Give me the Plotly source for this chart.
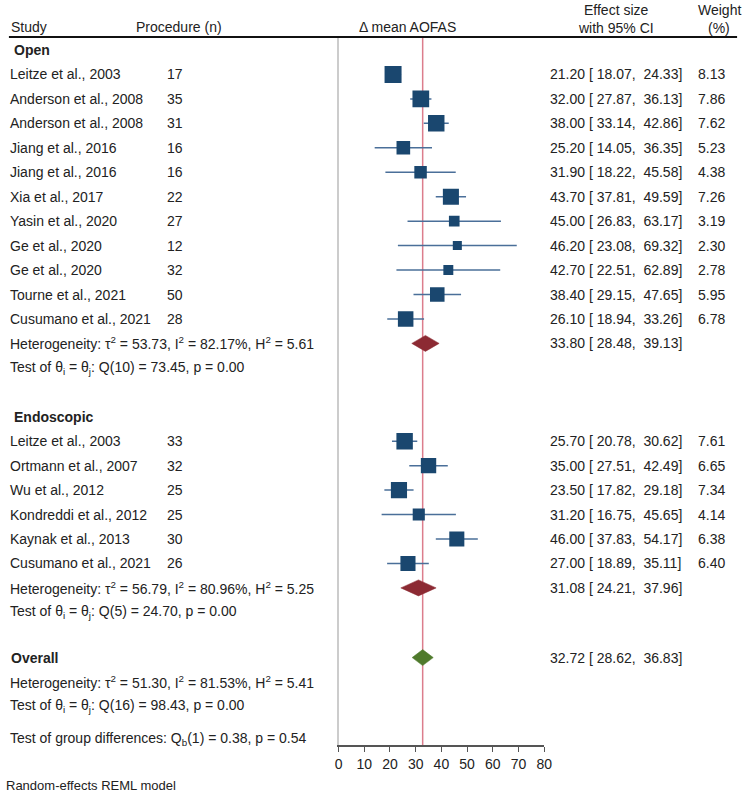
import plotly.graph_objects as go
import math

# ---------------- data ----------------
open_studies = ["Leitze et al., 2003", "Anderson et al., 2008", "Anderson et al., 2008",
                "Jiang et al., 2016", "Jiang et al., 2016", "Xia et al., 2017",
                "Yasin et al., 2020", "Ge et al., 2020", "Ge et al., 2020",
                "Tourne et al., 2021", "Cusumano et al., 2021"]
open_n = [17, 35, 31, 16, 16, 22, 27, 12, 32, 50, 28]
open_es = [21.20, 32.00, 38.00, 25.20, 31.90, 43.70, 45.00, 46.20, 42.70, 38.40, 26.10]
open_lo = [18.07, 27.87, 33.14, 14.05, 18.22, 37.81, 26.83, 23.08, 22.51, 29.15, 18.94]
open_hi = [24.33, 36.13, 42.86, 36.35, 45.58, 49.59, 63.17, 69.32, 62.89, 47.65, 33.26]
open_w = [8.13, 7.86, 7.62, 5.23, 4.38, 7.26, 3.19, 2.30, 2.78, 5.95, 6.78]

endo_studies = ["Leitze et al., 2003", "Ortmann et al., 2007", "Wu et al., 2012",
                "Kondreddi et al., 2012", "Kaynak et al., 2013", "Cusumano et al., 2021"]
endo_n = [33, 32, 25, 25, 30, 26]
endo_es = [25.70, 35.00, 23.50, 31.20, 46.00, 27.00]
endo_lo = [20.78, 27.51, 17.82, 16.75, 37.83, 18.89]
endo_hi = [30.62, 42.49, 29.18, 45.65, 54.17, 35.11]
endo_w = [7.61, 6.65, 7.34, 4.14, 6.38, 6.40]

pooled_labels = ["Open", "Endoscopic", "Overall"]
pooled_es = [33.80, 31.08, 32.72]
pooled_lo = [28.48, 24.21, 28.62]
pooled_hi = [39.13, 37.96, 36.83]

open_het = "Heterogeneity: τ<sup>2</sup> = 53.73, I<sup>2</sup> = 82.17%, H<sup>2</sup> = 5.61"
open_test = "Test of θ<sub>i</sub> = θ<sub>j</sub>: Q(10) = 73.45, p = 0.00"
endo_het = "Heterogeneity: τ<sup>2</sup> = 56.79, I<sup>2</sup> = 80.96%, H<sup>2</sup> = 5.25"
endo_test = "Test of θ<sub>i</sub> = θ<sub>j</sub>: Q(5) = 24.70, p = 0.00"
all_het = "Heterogeneity: τ<sup>2</sup> = 51.30, I<sup>2</sup> = 81.53%, H<sup>2</sup> = 5.41"
all_test = "Test of θ<sub>i</sub> = θ<sub>j</sub>: Q(16) = 98.43, p = 0.00"
group_test = "Test of group differences: Q<sub>b</sub>(1) = 0.38, p = 0.54"

x_ticks = [0, 10, 20, 30, 40, 50, 60, 70, 80]

# ---------------- layout helpers ----------------
W, H = 750, 796
TOP, BOT = 38, 745          # plot area pixels
ROW0, STEP = 50, 24.45      # pixel of first row and row spacing
y_top = (TOP - ROW0) / STEP
y_bot = (BOT - ROW0) / STEP

FONT = "Liberation Sans, Arial, sans-serif"
TXT = "#222222"
SQ = "#1a476f"
CI = "#4a6f99"
RED_LINE = "#dc7d8c"
NB = "\u00a0"

open_rows = [1 + i for i in range(len(open_studies))]
open_het_row = 12
open_test_row = 13
endo_head_row = 15
endo_rows = [16 + i for i in range(len(endo_studies))]
endo_het_row = 22
endo_test_row = 23
overall_row = 24.85
all_het_row = 25.85
all_test_row = 26.85
group_row = 28.2
pooled_rows = [open_het_row, endo_het_row, overall_row]
pooled_colors = ["#8c2a33", "#8c2a33", "#4f7a2c"]

fig = go.Figure()
annotations = []

def txt(x, y, s, anchor="left", yref="y", size=14, bold=False):
    if bold:
        s = "<b>" + s + "</b>"
    annotations.append(dict(x=x / W, y=y, xref="paper", yref=yref, text=s, showarrow=False,
                            xanchor=anchor, yanchor="middle", align=anchor,
                            borderpad=0, borderwidth=0,
                            font=dict(family=FONT, size=size, color=TXT)))

def paper_y(pix):
    return 1 - (pix - TOP) / (BOT - TOP)

# header
txt(7, paper_y(27), "Study", yref="paper")
txt(134, paper_y(27), "Procedure (n)", yref="paper")
txt(410, paper_y(27), "Δ mean AOFAS", anchor="center", yref="paper")
txt(622, paper_y(10), "Effect size", anchor="center", yref="paper")
txt(622, paper_y(28), "with 95% CI", anchor="center", yref="paper")
txt(727, paper_y(10), "Weight", anchor="center", yref="paper")
txt(727, paper_y(28), "(%)", anchor="center", yref="paper")

ES_X = 555

def fmt(es, lo, hi):
    return f"{es:5.2f} [ {lo:5.2f},  {hi:5.2f}]".replace(" ", NB)

def add_group(names, ns, es, lo, hi, w, rows):
    for nm, n, e, l, h, ww, r in zip(names, ns, es, lo, hi, w, rows):
        txt(6, r, nm)
        txt(166, r, str(n))
        txt(ES_X, r, fmt(e, l, h))
        txt(733, r, f"{ww:.2f}", anchor="right")
        fig.add_trace(go.Scatter(x=[l, h], y=[r, r], mode="lines",
                                 line=dict(color=CI, width=1.5), hoverinfo="skip"))
    fig.add_trace(go.Scatter(x=es, y=rows, mode="markers",
                             marker=dict(symbol="square", color=SQ, opacity=1,
                                         size=[5.96 * math.sqrt(v) for v in w],
                                         line=dict(width=0)),
                             hoverinfo="skip"))

txt(10, 0, "Open", bold=True)
add_group(open_studies, open_n, open_es, open_lo, open_hi, open_w, open_rows)
txt(6, open_het_row, open_het)
txt(6, open_test_row, open_test)

txt(10, endo_head_row, "Endoscopic", bold=True)
add_group(endo_studies, endo_n, endo_es, endo_lo, endo_hi, endo_w, endo_rows)
txt(6, endo_het_row, endo_het)
txt(6, endo_test_row, endo_test)

txt(7, overall_row, "Overall", bold=True)
txt(6, all_het_row, all_het)
txt(6, all_test_row, all_test)
txt(6, group_row, group_test)

# pooled diamonds
half = 8 / STEP
for lab, e, l, h, r, c in zip(pooled_labels, pooled_es, pooled_lo, pooled_hi, pooled_rows, pooled_colors):
    fig.add_trace(go.Scatter(x=[l, e, h, e, l], y=[r, r - half, r, r + half, r],
                             mode="lines", fill="toself", fillcolor=c,
                             line=dict(color=c, width=0.5), hoverinfo="skip"))
    txt(ES_X, r, fmt(e, l, h))

txt(2, paper_y(786), "Random-effects REML model", yref="paper", size=13)

# shapes: header rule and overall effect line
shapes = [
    dict(type="line", xref="paper", yref="paper", x0=5 / W, x1=745 / W,
         y0=paper_y(37), y1=paper_y(37), line=dict(color="#111111", width=2)),
    dict(type="line", xref="x", yref="paper", x0=pooled_es[2], x1=pooled_es[2],
         y0=0, y1=1, line=dict(color=RED_LINE, width=1.5), layer="below"),
]

fig.update_layout(
    width=W, height=H,
    margin=dict(l=0, r=0, t=TOP, b=H - BOT),
    paper_bgcolor="white", plot_bgcolor="white",
    showlegend=False,
    annotations=annotations,
    shapes=shapes,
    xaxis=dict(domain=[340 / W, 549 / W], range=[0, 80], tickvals=x_ticks,
               showgrid=False, zeroline=False, showline=True, linecolor="#555555",
               linewidth=1.5, ticks="outside", ticklen=5, tickcolor="#555555",
               tickfont=dict(family=FONT, size=14, color=TXT), fixedrange=True),
    yaxis=dict(range=[y_bot, y_top], showgrid=False, zeroline=False,
               showticklabels=False, showline=True, linecolor="#cccccc", linewidth=2,
               anchor="x", fixedrange=True),
)

fig.write_html("out.html", config={"displayModeBar": False},
               post_script="document.body.style.margin='0px';document.body.style.overflow='hidden';")
